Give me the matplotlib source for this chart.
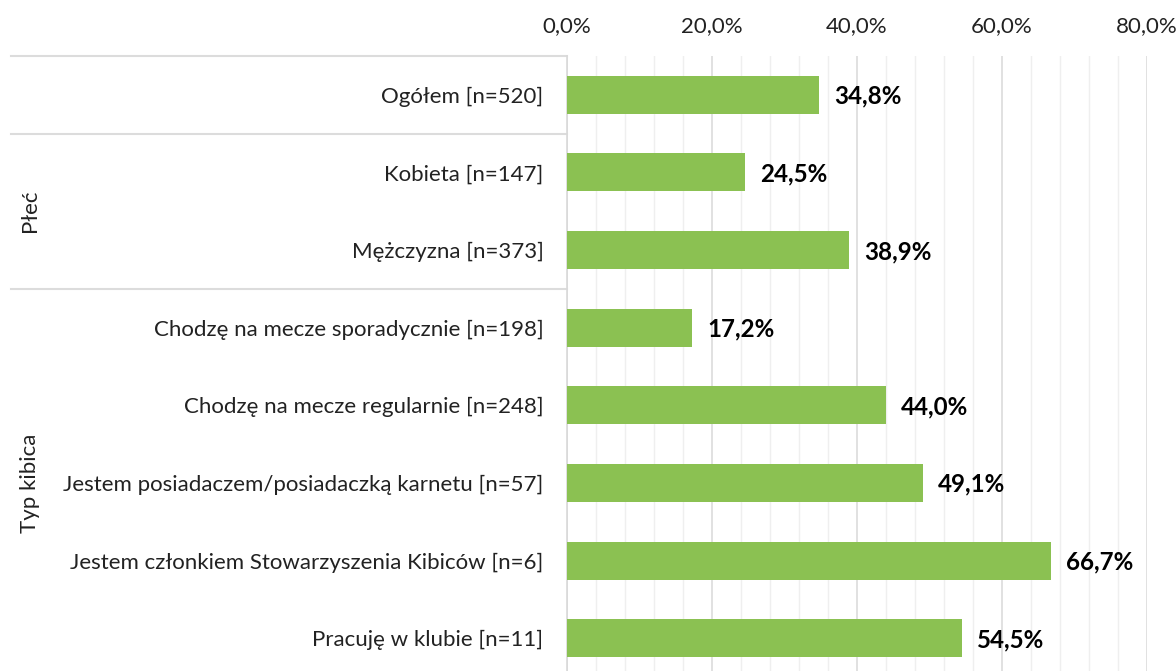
from matplotlib import pyplot as plt
from matplotlib.transforms import blended_transform_factory
import numpy as np

plt.rcParams['font.family'] = ['Lato', 'DejaVu Sans']

# dane
kategorie = ['Ogółem [n=520]', 'Kobieta [n=147]', 'Mężczyzna [n=373]',
             'Chodzę na mecze sporadycznie [n=198]',
             'Chodzę na mecze regularnie [n=248]',
             'Jestem posiadaczem/posiadaczką karnetu [n=57]',
             'Jestem członkiem Stowarzyszenia Kibiców [n=6]',
             'Pracuję w klubie [n=11]']
wartosci = [0.348, 0.245, 0.389, 0.172, 0.440, 0.491, 0.667, 0.545]
grupy = ['Płeć', 'Typ kibica']
grupy_zakres = [(0.5, 2.5), (2.5, 7.5)]
ticki_x = [0.0, 0.2, 0.4, 0.6, 0.8]

W, H = 1176, 671
fig = plt.figure(figsize=(W / 100, H / 100), dpi=100)
# obszar wykresu: od y=56 px do ~677 px (troche ponizej krawedzi)
ax = fig.add_axes([567 / W, (H - 677) / H, (1147 - 567) / W, (677 - 56) / H])

y = np.arange(len(wartosci))
ax.barh(y, wartosci, height=0.49, color='#8BC152', zorder=3)

for yi, v in zip(y, wartosci):
    ax.annotate(f'{v*100:.1f}%'.replace('.', ','), (v, yi), xytext=(11, -1),
                textcoords='offset points', va='center', ha='left',
                fontsize=17.4, fontweight='bold', color='black')

ax.set_xlim(0, 0.8)
ax.set_ylim(len(wartosci) - 0.5, -0.5)

# os x na gorze
ax.xaxis.tick_top()
ax.set_xticks(ticki_x)
ax.set_xticklabels([f'{t*100:.1f}%'.replace('.', ',') for t in ticki_x], fontsize=16)
ax.set_xticks(np.arange(0, 0.801, 0.04), minor=True)
ax.tick_params(axis='x', which='both', length=0, pad=14, colors='#222222')
ax.grid(axis='x', which='major', color='#dcdcdc', linewidth=1.2, zorder=0)
ax.grid(axis='x', which='minor', color='#efefef', linewidth=1.0, zorder=0)

ax.set_yticks(y)
ax.set_yticklabels(kategorie, fontsize=16)
ax.tick_params(axis='y', length=0, pad=17, colors='#222222')

for s in ['top', 'right', 'bottom']:
    ax.spines[s].set_visible(False)
ax.spines['left'].set_color('#d9d9d9')
ax.spines['left'].set_linewidth(1.2)

# linie grup i etykiety grup
tr = blended_transform_factory(ax.transAxes, ax.transData)
x0 = (11 - 567) / (1147 - 567)
for yl in [-0.5, 0.5, 2.5]:
    ax.plot([x0, 0], [yl, yl], color='#dcdcdc', linewidth=1.5, transform=tr, clip_on=False)

xg = (30 - 567) / (1147 - 567)
for g, (a, b) in zip(grupy, grupy_zakres):
    ax.text(xg, (a + b) / 2, g, rotation=90, ha='center', va='center',
            fontsize=16, color='#222222', transform=tr)

fig.savefig('out.png', dpi=100)
